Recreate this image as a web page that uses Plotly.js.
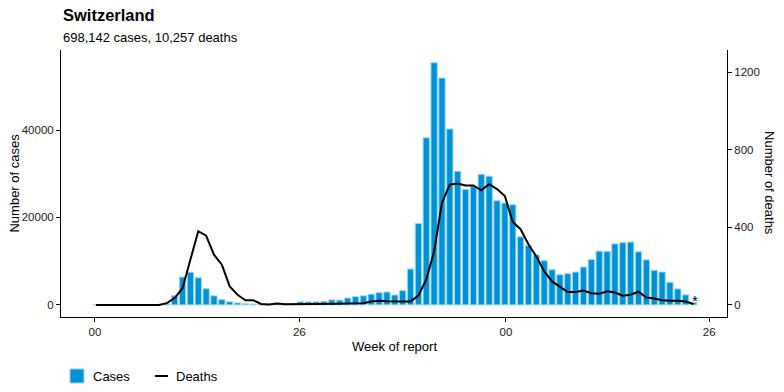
<!DOCTYPE html>
<html>
<head>
<meta charset="utf-8">
<script src="https://cdn.plot.ly/plotly-3.0.1.min.js"></script>
<style>html,body{margin:0;padding:0;background:#fff;}#chart{width:784px;height:392px;}</style>
</head>
<body>
<div id="chart"></div>
<script>
// Week of report (Thursday of each ISO week)
const weeks = [
 "2020-01-02","2020-01-09","2020-01-16","2020-01-23","2020-01-30",
 "2020-02-06","2020-02-13","2020-02-20","2020-02-27",
 "2020-03-05","2020-03-12","2020-03-19","2020-03-26",
 "2020-04-02","2020-04-09","2020-04-16","2020-04-23","2020-04-30",
 "2020-05-07","2020-05-14","2020-05-21","2020-05-28",
 "2020-06-04","2020-06-11","2020-06-18","2020-06-25",
 "2020-07-02","2020-07-09","2020-07-16","2020-07-23","2020-07-30",
 "2020-08-06","2020-08-13","2020-08-20","2020-08-27",
 "2020-09-03","2020-09-10","2020-09-17","2020-09-24",
 "2020-10-01","2020-10-08","2020-10-15","2020-10-22","2020-10-29",
 "2020-11-05","2020-11-12","2020-11-19","2020-11-26",
 "2020-12-03","2020-12-10","2020-12-17","2020-12-24","2020-12-31",
 "2021-01-07","2021-01-14","2021-01-21","2021-01-28",
 "2021-02-04","2021-02-11","2021-02-18","2021-02-25",
 "2021-03-04","2021-03-11","2021-03-18","2021-03-25",
 "2021-04-01","2021-04-08","2021-04-15","2021-04-22","2021-04-29",
 "2021-05-06","2021-05-13","2021-05-20","2021-05-27",
 "2021-06-03","2021-06-10","2021-06-17"
];
const cases = [
 0,0,0,0,0,
 0,0,0,15,
 250,2070,6370,7470,
 6200,3700,2070,1200,690,
 450,250,180,130,
 120,150,180,300,
 700,680,700,760,1150,
 1100,1570,1880,2070,
 2450,2800,2950,2260,
 3260,8200,18600,38230,55400,
 51880,40230,30540,26400,
 27100,29890,29430,23830,23290,
 22900,15560,13560,11420,
 10110,8050,6900,7130,
 7510,8660,10340,12300,
 12250,13950,14220,14370,12150,
 10300,7930,7510,5170,
 3650,2300,500
];
const deaths = [
 0,0,0,0,0,
 0,0,0,0,
 9,35,86,233,
 380,357,259,207,95,
 52,24,24,5,
 2,7,3,3,
 4,3,4,5,5,
 6,7,7,9,
 17,21,19,17,
 17,18,48,130,275,
 527,620,626,616,
 616,591,622,597,561,
 427,390,313,250,
 173,121,95,66,
 66,74,60,57,
 70,64,47,52,68,
 38,33,24,21,
 21,17,5
];
const tickDates = ["2020-01-01","2020-07-01","2021-01-01","2021-07-01"];
const tickLabels = ["00","26","00","26"];
const leftTicks = [0,20000,40000];
const rightTicks = [0,400,800,1200];
const titleText = "Switzerland";
const subtitleText = "698,142 cases, 10,257 deaths";
const seriesNames = ["Cases","Deaths"];

const FONT = "Liberation Sans, Arial, Helvetica, sans-serif";
const BAR = "#0092D4";
const BAR_LINE = "#9BD5F2";
const DAY = 86400000;

// plot area in pixels
const L = 61, R = 727.5, T = 50, B = 317;
const W = 784, H = 392;
const px = x => (x - L) / (R - L);
const py = y => (B - y) / (B - T);

const caseMin = -2770, caseMax = 58300, ratio = 44.37;

const traces = [
 {type:"bar", x:weeks, y:cases, name:seriesNames[0], width:7*DAY*0.8,
  marker:{color:BAR, line:{color:BAR_LINE, width:1}}, yaxis:"y", showlegend:false,
  hoverinfo:"x+y"},
 {type:"scatter", mode:"lines", x:weeks, y:deaths, name:seriesNames[1], yaxis:"y2",
  line:{color:"#000", width:2}, showlegend:false}
];

const tickFont = {family:FONT, size:11.5, color:"#1a1a1a"};
const layout = {
 width:W, height:H,
 margin:{l:L, r:W-R, t:T, b:H-B, pad:0},
 paper_bgcolor:"#fff", plot_bgcolor:"#fff",
 font:{family:FONT, color:"#000"},
 bargap:0,
 showlegend:false,
 xaxis:{type:"date", range:["2019-12-01 19:00","2021-07-16 19:00"],
  tickvals:tickDates, ticktext:tickLabels, tickfont:tickFont,
  showline:true, linecolor:"#000", linewidth:1, ticks:"outside", ticklen:4, tickcolor:"#000",
  showgrid:false, zeroline:false, fixedrange:true},
 yaxis:{range:[caseMin, caseMax], tickvals:leftTicks, ticktext:leftTicks.map(String), tickfont:tickFont,
  showline:true, linecolor:"#000", linewidth:1, ticks:"outside", ticklen:4, tickcolor:"#000",
  showgrid:false, zeroline:false},
 yaxis2:{range:[caseMin/ratio, caseMax/ratio], overlaying:"y", side:"right",
  tickvals:rightTicks, ticktext:rightTicks.map(String), tickfont:tickFont,
  showline:true, linecolor:"#000", linewidth:1, ticks:"outside", ticklen:4, tickcolor:"#000",
  showgrid:false, zeroline:false},
 annotations:[
  {xref:"paper", yref:"paper", x:px(61), y:py(15), xanchor:"left", yanchor:"middle",
   text:"<b>"+titleText+"</b>", showarrow:false, font:{family:FONT, size:16.5, color:"#000"}},
  {xref:"paper", yref:"paper", x:px(61), y:py(37), xanchor:"left", yanchor:"middle",
   text:subtitleText, showarrow:false, font:{family:FONT, size:13, color:"#000"}},
  {xref:"paper", yref:"paper", x:px((L+R)/2), y:py(346), xanchor:"center", yanchor:"middle",
   text:"Week of report", showarrow:false, font:{family:FONT, size:13, color:"#000"}},
  {xref:"paper", yref:"paper", x:px(14), y:py(183.5), xanchor:"center", yanchor:"middle",
   text:"Number of cases", textangle:-90, showarrow:false, font:{family:FONT, size:13, color:"#000"}},
  {xref:"paper", yref:"paper", x:px(770), y:py(183.5), xanchor:"center", yanchor:"middle",
   text:"Number of deaths", textangle:90, showarrow:false, font:{family:FONT, size:13, color:"#000"}},
  {xref:"x", yref:"y", x:weeks[weeks.length-1], y:cases[cases.length-1], xanchor:"center", yanchor:"bottom",
   text:"*", showarrow:false, font:{family:FONT, size:15, color:"#000"}, yshift:-8, xshift:1},
  {xref:"paper", yref:"paper", x:px(91), y:py(376), xanchor:"left", yanchor:"middle",
   text:seriesNames[0], showarrow:false, font:{family:FONT, size:13, color:"#000"}},
  {xref:"paper", yref:"paper", x:px(174), y:py(376), xanchor:"left", yanchor:"middle",
   text:seriesNames[1], showarrow:false, font:{family:FONT, size:13, color:"#000"}}
 ],
 shapes:[
  {type:"rect", xref:"paper", yref:"paper", x0:px(70), x1:px(84), y0:py(383), y1:py(369),
   fillcolor:BAR, line:{color:BAR_LINE, width:1}},
  {type:"line", xref:"paper", yref:"paper", x0:px(155), x1:px(168), y0:py(376), y1:py(376),
   line:{color:"#000", width:2}}
 ]
};
Plotly.newPlot("chart", traces, layout, {displayModeBar:false, staticPlot:true});
</script>
</body>
</html>
